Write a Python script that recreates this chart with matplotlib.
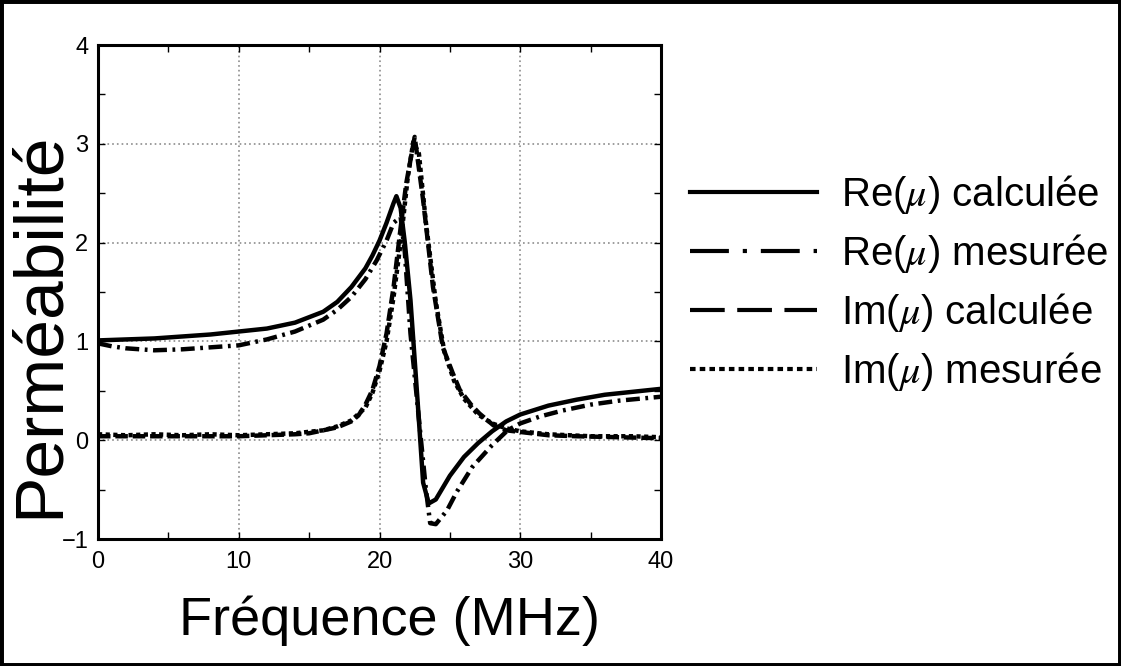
import matplotlib
matplotlib.use("Agg")
import matplotlib.pyplot as plt
from matplotlib.lines import Line2D
from matplotlib.patches import Rectangle
from matplotlib.ticker import MultipleLocator

# values (frequency in MHz, permeability)
re_calc_f = [0, 2, 4, 6, 8, 10, 12, 14, 16, 17, 18, 19, 19.5, 20, 20.5, 21, 21.2, 21.5,
             21.8, 22.2, 22.7, 23.1, 23.5, 24.0, 24.5, 25, 26, 27, 28, 29, 30, 32, 34,
             36, 38, 40]
re_calc = [1.01, 1.02, 1.03, 1.05, 1.07, 1.10, 1.13, 1.19, 1.30, 1.40, 1.55, 1.74, 1.87,
           2.02, 2.20, 2.40, 2.47, 2.35, 2.00, 1.42, 0.41, -0.43, -0.64, -0.60, -0.48,
           -0.36, -0.17, -0.03, 0.09, 0.19, 0.26, 0.35, 0.41, 0.46, 0.49, 0.52]

re_mes_f = [0, 1, 2, 4, 6, 8, 10, 12, 14, 16, 17, 18, 19, 19.8, 20.5, 21, 21.5, 21.8,
            22.2, 22.9, 23.3, 23.6, 24.0, 24.8, 25.5, 26.6, 28, 29.1, 30, 31.4, 33, 35,
            37, 40]
re_mes = [0.98, 0.95, 0.93, 0.91, 0.92, 0.94, 0.96, 1.02, 1.10, 1.22, 1.32, 1.45, 1.63,
          1.82, 2.02, 2.20, 2.26, 1.90, 1.08, 0.07, -0.50, -0.84, -0.85, -0.71, -0.52,
          -0.27, -0.05, 0.10, 0.17, 0.24, 0.30, 0.36, 0.40, 0.44]

im_calc_f = [0, 2, 4, 6, 8, 10, 12, 14, 15, 16, 17, 18, 18.5, 19, 19.5, 20, 20.5, 21,
             21.5, 21.9, 22.5, 23.1, 23.8, 24.5, 25.2, 25.7, 26.5, 27.1, 28.1, 29, 30.2,
             32, 34, 37, 40]
im_calc = [0.04, 0.04, 0.04, 0.04, 0.04, 0.04, 0.05, 0.06, 0.07, 0.10, 0.13, 0.19, 0.25,
           0.36, 0.51, 0.75, 1.08, 1.55, 2.15, 2.60, 3.07, 2.43, 1.55, 0.94, 0.68, 0.51,
           0.36, 0.27, 0.15, 0.10, 0.08, 0.05, 0.04, 0.03, 0.02]

im_mes_f = [0, 2, 4, 6, 8, 10, 12, 14, 16, 17, 18, 19, 19.5, 20, 20.5, 21, 21.5, 22,
            22.4, 22.8, 23.3, 24, 24.6, 25.3, 26, 27, 28, 29, 30, 32, 35, 38, 40]
im_mes = [0.06, 0.05, 0.06, 0.05, 0.06, 0.05, 0.06, 0.07, 0.10, 0.14, 0.20, 0.33, 0.48,
          0.70, 1.00, 1.45, 2.00, 2.65, 3.02, 2.90, 2.20, 1.40, 0.90, 0.60, 0.42, 0.26,
          0.17, 0.12, 0.09, 0.06, 0.04, 0.04, 0.03]

labels = [r"Re($\mu$) calculée", r"Re($\mu$) mesurée",
          r"Im($\mu$) calculée", r"Im($\mu$) mesurée"]

FONT = ["Liberation Sans", "DejaVu Sans"]

plt.rcParams["mathtext.fontset"] = "stix"
plt.rcParams["lines.scale_dashes"] = False

fig = plt.figure(figsize=(11.21, 6.66), dpi=100)
ax = fig.add_axes([98 / 1121, 1 - 539 / 666, 563 / 1121, 494 / 666])

lw = 3.2
ax.plot(re_calc_f, re_calc, color="black", lw=lw, solid_capstyle="butt")
ax.plot(re_mes_f, re_mes, color="black", lw=lw, dashes=(10, 4, 2, 4))
ax.plot(im_calc_f, im_calc, color="black", lw=lw, dashes=(9, 3.5))
ax.plot(im_mes_f, im_mes, color="black", lw=lw, dashes=(3, 2.5))

ax.set_xlim(0, 40)
ax.set_ylim(-1, 4)
ax.xaxis.set_major_locator(MultipleLocator(10))
ax.xaxis.set_minor_locator(MultipleLocator(5))
ax.yaxis.set_major_locator(MultipleLocator(1))
ax.yaxis.set_minor_locator(MultipleLocator(0.5))
ax.tick_params(which="both", direction="in", top=True, right=True,
               length=5, width=1, pad=7)
ax.tick_params(axis="x", pad=9)
for t in ax.get_xticklabels() + ax.get_yticklabels():
    t.set_family(FONT)
    t.set_fontsize(17)
ax.grid(True, which="major", color="#8c8c8c", lw=1.2, ls=(0, (1.2, 2.2)))
for s in ax.spines.values():
    s.set_linewidth(2.2)

ax.set_xlabel("Fréquence (MHz)", family=FONT, fontsize=39)
ax.xaxis.set_label_coords(0.517, -0.115)
ax.set_ylabel("Perméabilité", family=FONT, fontsize=50)
ax.yaxis.set_label_coords(-0.047, 0.433)

handles = [
    Line2D([0], [0], color="black", lw=3),
    Line2D([0], [0], color="black", lw=3, dashes=(28, 10, 3, 10)),
    Line2D([0], [0], color="black", lw=3, dashes=(25, 9)),
    Line2D([0], [0], color="black", lw=3, dashes=(4, 3)),
]
fig.legend(handles, labels, loc="upper left", bbox_to_anchor=(690 / 1121, 1 - 173 / 666),
           frameon=False, borderpad=0, borderaxespad=0, handlelength=3.15,
           handletextpad=0.6, labelspacing=0.4,
           prop={"family": FONT, "size": 29})

fig.patches.append(Rectangle((0, 0), 1, 1, transform=fig.transFigure, fill=False,
                             edgecolor="black", lw=5))

fig.savefig("out.png", dpi=100)
